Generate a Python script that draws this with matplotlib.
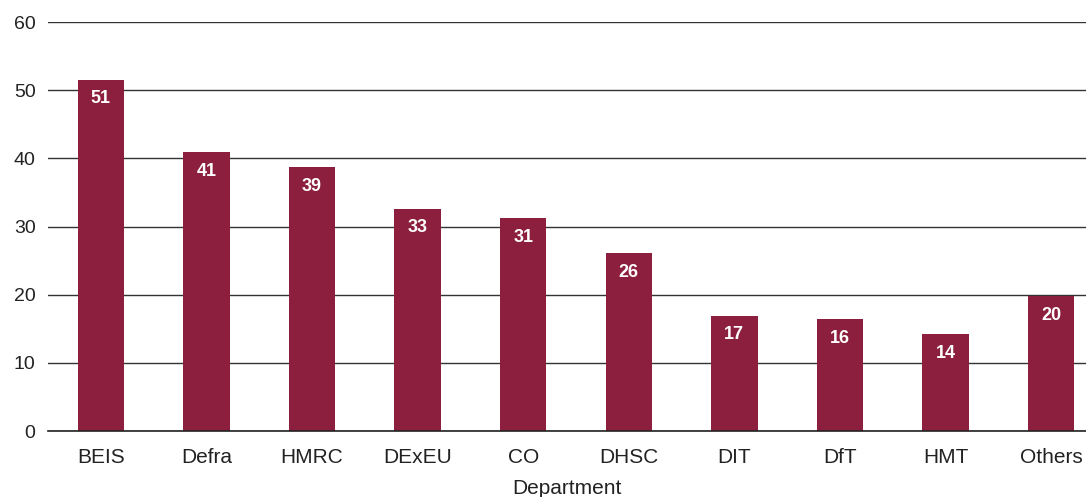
import matplotlib.pyplot as plt

departments = ['BEIS', 'Defra', 'HMRC', 'DExEU', 'CO', 'DHSC', 'DIT', 'DfT', 'HMT', 'Others']
values = [51.5, 40.9, 38.7, 32.6, 31.2, 26.1, 16.9, 16.4, 14.2, 19.8]
labels = ['51', '41', '39', '33', '31', '26', '17', '16', '14', '20']
yticks = [0, 10, 20, 30, 40, 50, 60]

plt.rcParams['font.family'] = ['Liberation Sans', 'DejaVu Sans']

fig = plt.figure(figsize=(10.86, 4.97), dpi=100)
ax = fig.add_axes([48 / 1086, 1 - 431 / 497, 1 - 48 / 1086, (431 - 22) / 497])

x = range(len(departments))
ax.set_axisbelow(True)
ax.yaxis.grid(True, color='#333333', linewidth=1)
ax.axhline(0, color='#222222', linewidth=1.2, clip_on=False, zorder=3)
bars = ax.bar(x, values, width=0.44, color='#8c1f3d', zorder=2)

for bar, lab in zip(bars, labels):
    ax.annotate(lab, (bar.get_x() + bar.get_width() / 2, bar.get_height()),
                xytext=(0, -19), textcoords='offset pixels',
                ha='center', va='center', color='white', fontsize=13, fontweight='bold')

ax.set_xlim(-0.5, 9.33)
ax.set_ylim(0, 60)
ax.set_yticks(yticks)
ax.set_xticks(list(x))
ax.set_xticklabels(departments)
ax.tick_params(axis='both', length=0, colors='#222222')
ax.tick_params(axis='y', pad=9, labelsize=14)
ax.tick_params(axis='x', pad=12, labelsize=15)
ax.set_xlabel('Department', fontsize=15, color='#222222', labelpad=9)
for s in ax.spines.values():
    s.set_visible(False)

fig.savefig('out.png', dpi=100)
